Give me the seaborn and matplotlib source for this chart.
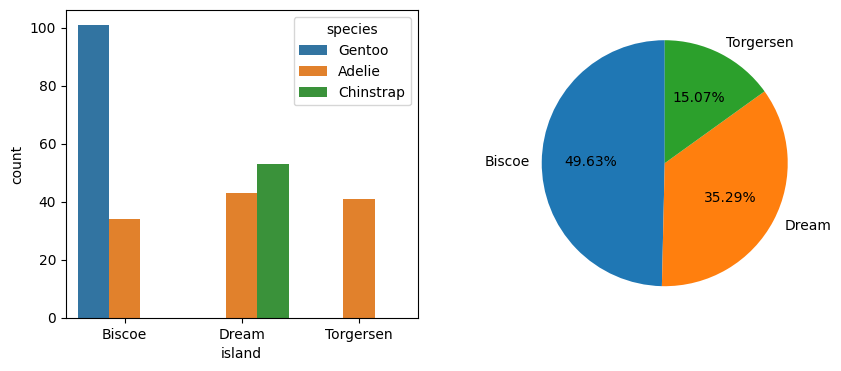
import matplotlib
matplotlib.use("Agg")
import matplotlib.pyplot as plt
import pandas as pd
import seaborn as sns

# counts per island and species
islands = ["Biscoe", "Dream", "Torgersen"]
species = ["Gentoo", "Adelie", "Chinstrap"]
bar_island = ["Biscoe", "Biscoe", "Dream", "Dream", "Torgersen"]
bar_species = ["Gentoo", "Adelie", "Adelie", "Chinstrap", "Adelie"]
bar_count = [101, 34, 43, 53, 41]

# island totals for the pie
island_totals = [135, 96, 41]

df = pd.DataFrame({"island": bar_island, "species": bar_species, "count": bar_count})

fig = plt.figure(figsize=(8.41, 3.71), dpi=100)
ax1 = fig.add_axes([0.0785, 0.1429, 0.418, 0.829])
ax2 = fig.add_axes([0.6076, 0.1456, 0.3656, 0.829])

sns.barplot(data=df, x="island", y="count", hue="species",
            order=islands, hue_order=species, errorbar=None, ax=ax1)
ax1.set_xlabel("island")
ax1.set_ylabel("count")
ax1.legend(title="species", loc="upper right")

ax2.pie(island_totals, labels=islands, autopct="%.2f%%", startangle=90)

fig.savefig("out.png", dpi=100)
